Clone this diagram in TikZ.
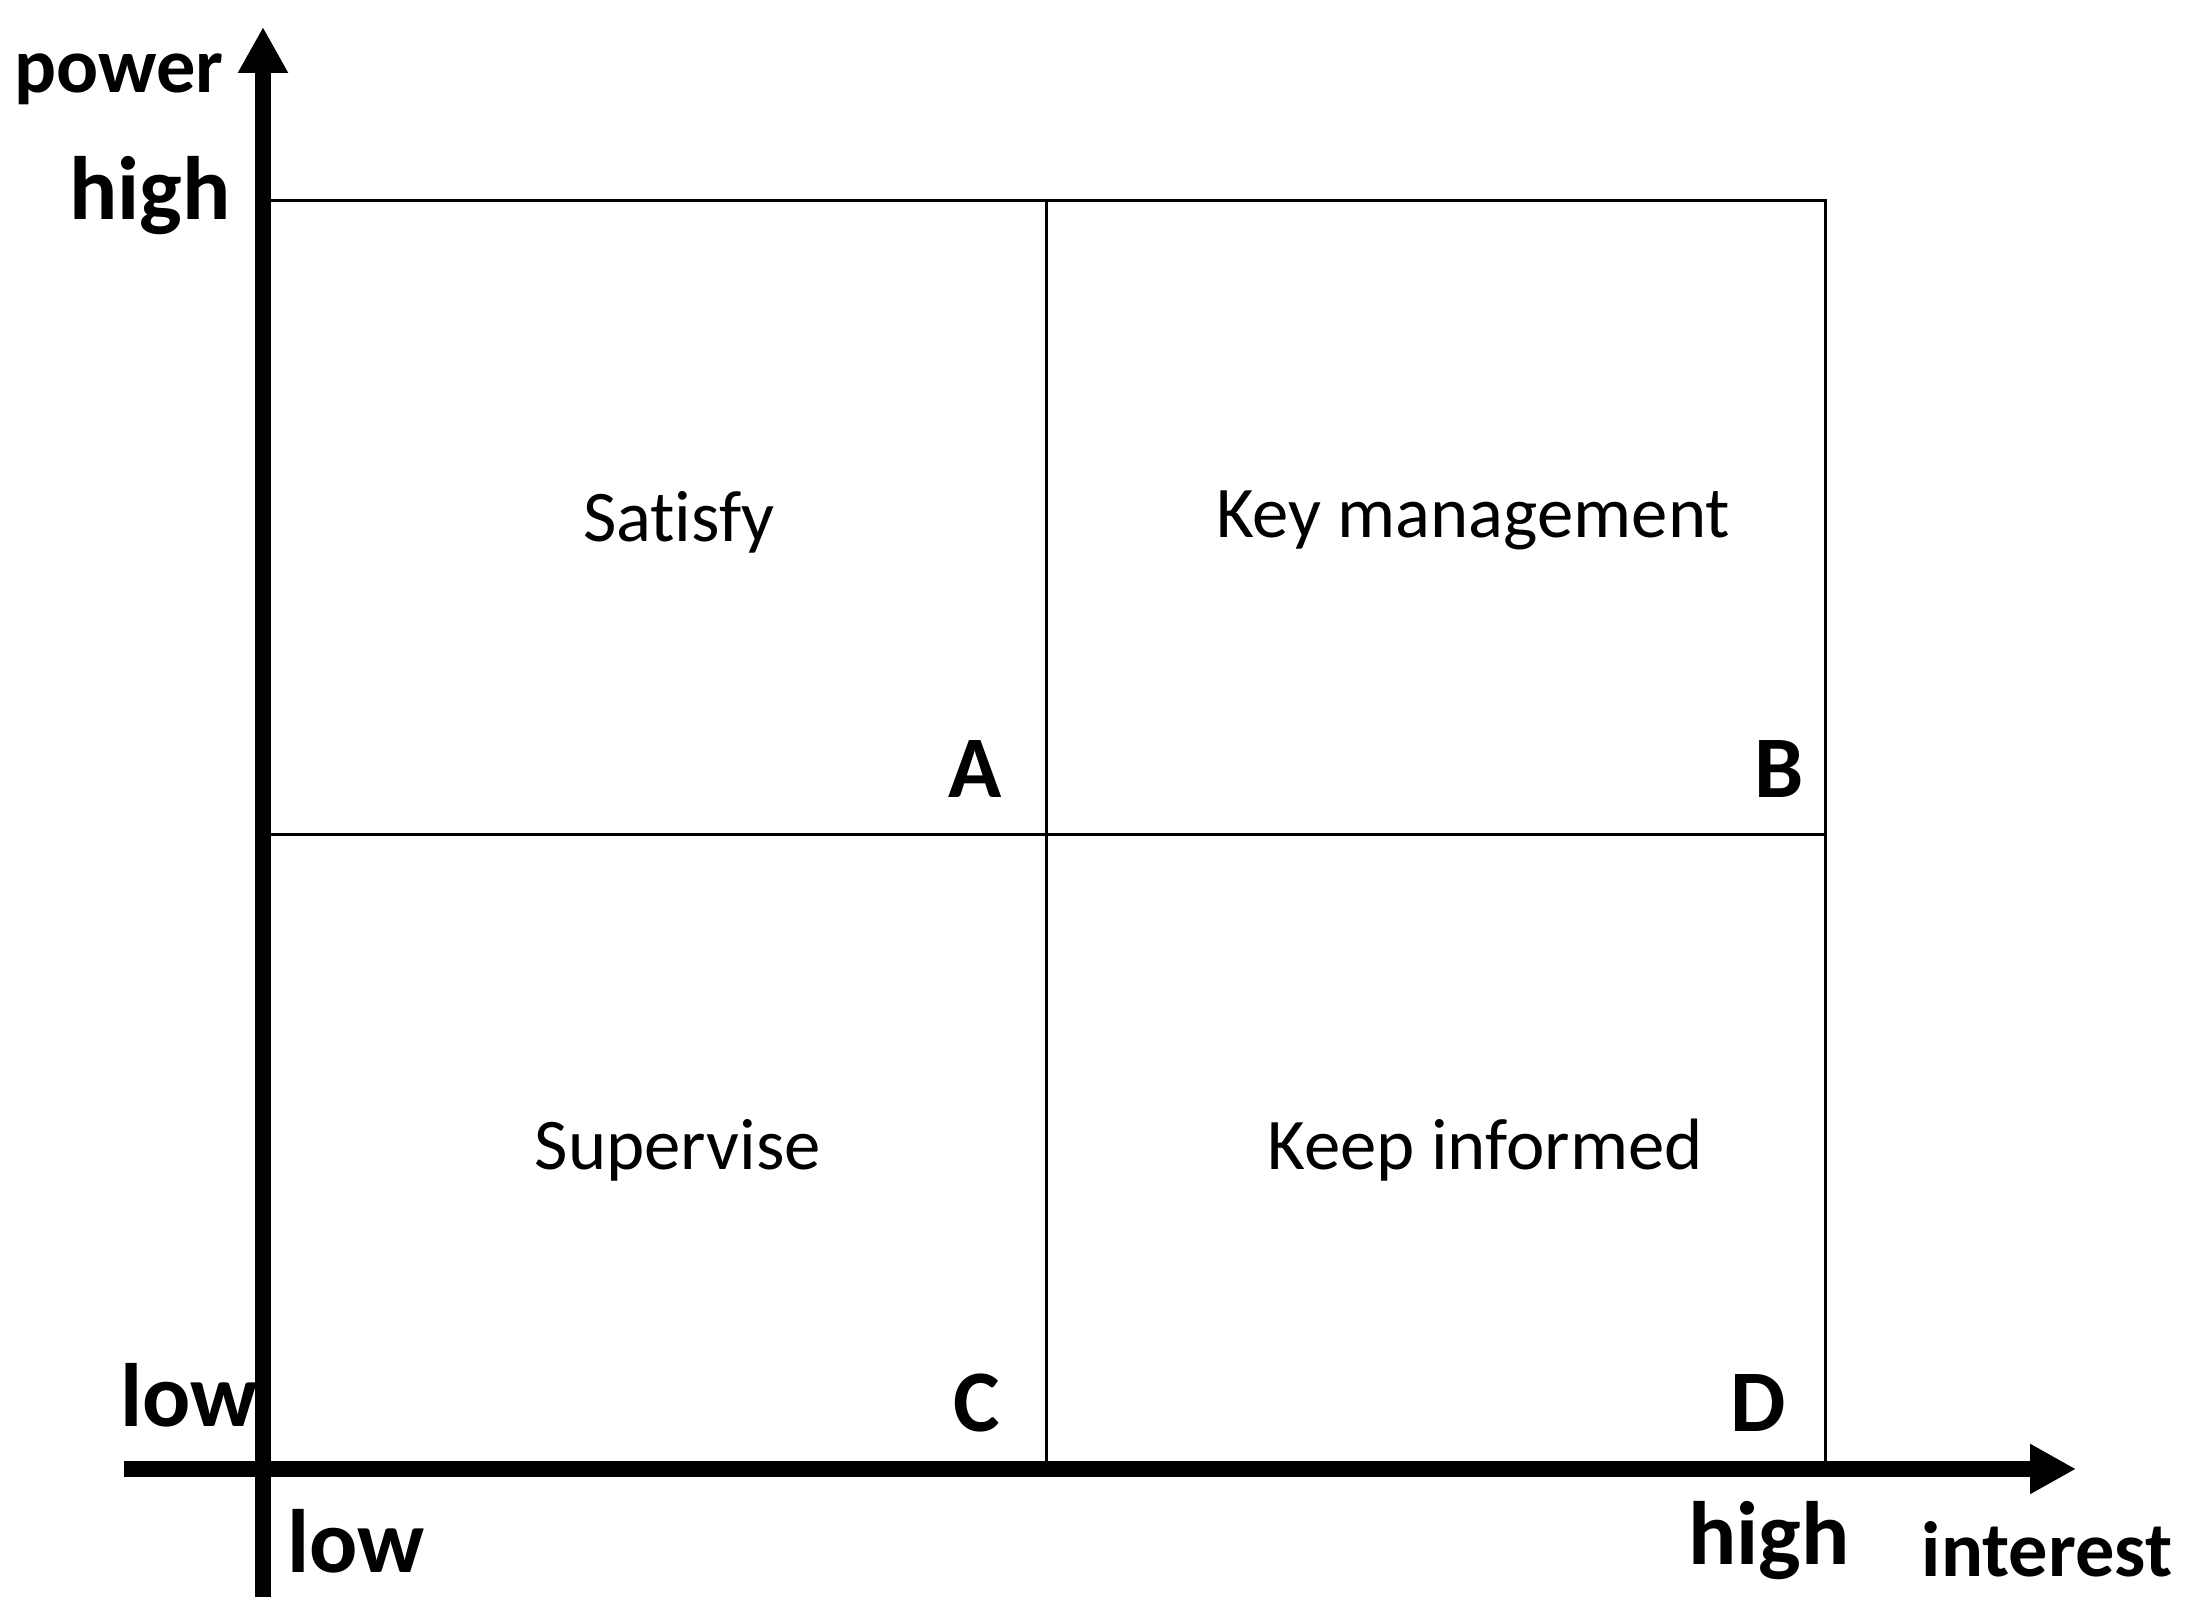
\documentclass[tikz,border=0pt]{standalone}
\usepackage{fontspec}
\setmainfont{Carlito}[Ligatures={NoCommon}]
\usetikzlibrary{arrows.meta}
\tikzset{
  axis/.style={line width=1.6mm,-{Triangle[length=4.6mm,width=4.7mm]}},
  cell/.style={line width=0.85pt},
  axislabel/.style={font=\bfseries\fontsize{22.3}{27}\selectfont,inner sep=0pt,anchor=base},
  level/.style={font=\bfseries\fontsize{25.6}{30}\selectfont,inner sep=0pt,anchor=base},
  quadrant/.style={font=\fontsize{20.7}{25}\selectfont,inner sep=0pt},
  corner/.style={font=\bfseries\fontsize{25}{30}\selectfont,inner sep=0pt,anchor=base},
}
\begin{document}
\begin{tikzpicture}
\useasboundingbox (0,0) rectangle (21.91,16.12);
\coordinate (O) at (2.63,1.43);
\coordinate (ybot) at (2.63,0.15);
\coordinate (ytop) at (2.63,15.85);
\coordinate (xleft) at (1.24,1.43);
\coordinate (xright) at (20.76,1.43);
\coordinate (tr) at (18.25,14.11);
\coordinate (tm) at (10.46,14.11);
\coordinate (bm) at (10.46,1.43);
\coordinate (ml) at (2.63,7.77);
\coordinate (mr) at (18.25,7.77);

% the grid
\draw[cell] (O) rectangle (tr);
\draw[cell] (bm)--(tm);
\draw[cell] (ml)--(mr);

% axes
\draw[axis] (ybot)--(ytop);
\draw[axis] (xleft)--(xright);

\node[axislabel] (power) at (1.19,15.19) {power};
\node[axislabel] (interest) at (20.47,0.35) {interest};
\node[level] (yhigh) at (1.50,13.92) {high};
\node[level] (ylow) at (1.89,1.85) {low};
\node[level] (xlow) at (3.56,0.39) {low};
\node[level] (xhigh) at (17.69,0.47) {high};

\node[quadrant] (satisfy) at (6.79,10.90) {Satisfy};
\node[quadrant] (keymgmt) at (14.73,10.92) {Key management};
\node[quadrant] (supervise) at (6.78,4.62) {Supervise};
\node[quadrant] (informed) at (14.85,4.62) {Keep informed};

\node[corner] (A) at (9.75,8.14) {A};
\node[corner] (B) at (17.79,8.14) {B};
\node[corner] (C) at (9.77,1.80) {C};
\node[corner] (D) at (17.58,1.80) {D};
\end{tikzpicture}
\end{document}
